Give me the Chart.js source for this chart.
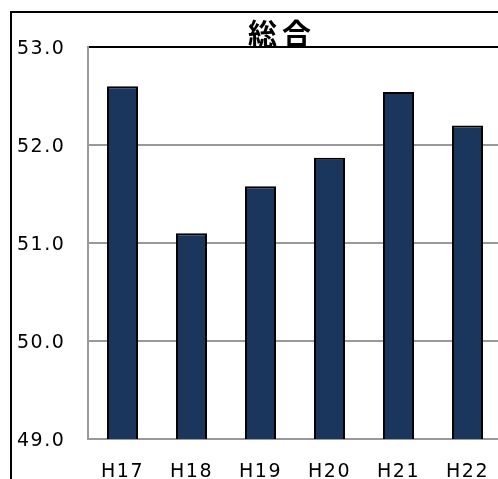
<!DOCTYPE html>
<html>
<head>
<meta charset="utf-8">
<script src="https://cdn.jsdelivr.net/npm/chart.js@4/dist/chart.umd.min.js"></script>
<style>
  html, body { margin: 0; padding: 0; background: #fff; overflow: hidden; }
  #wrap { position: absolute; left: 0; top: 0; }
</style>
</head>
<body>
<div id="wrap"><canvas id="chart" width="600" height="540"></canvas></div>
<script>
const titleText = '総合';
const years = ['H17', 'H18', 'H19', 'H20', 'H21', 'H22'];
const scores = [52.60, 51.10, 51.58, 51.87, 52.54, 52.20];
const yMin = 49;
const yMax = 53;

const spacedText = {
  id: 'spacedText',
  beforeUpdate(chart) { chart.ctx.letterSpacing = '1.5px'; },
  beforeDraw(chart) { chart.ctx.letterSpacing = '1.5px'; },
  afterDraw(chart) {
    const ctx = chart.ctx;
    ctx.save();
    // outer frame
    ctx.strokeStyle = '#000';
    ctx.lineWidth = 2;
    ctx.strokeRect(11, 12, 560, 540);
    // title
    ctx.letterSpacing = '5px';
    ctx.font = 'bold 29px "Noto Sans CJK JP"';
    ctx.fillStyle = '#000';
    ctx.textAlign = 'center';
    ctx.textBaseline = 'middle';
    ctx.fillText(titleText, 282, 34);
    ctx.restore();
  }
};

new Chart(document.getElementById('chart').getContext('2d'), {
  type: 'bar',
  data: {
    labels: years,
    datasets: [{
      data: scores,
      backgroundColor: '#1b365d',
      borderColor: '#000',
      borderWidth: 2,
      categoryPercentage: 1,
      barPercentage: 0.45
    }]
  },
  options: {
    responsive: false,
    animation: false,
    layout: { padding: { left: 17, top: 47, right: 98, bottom: 61 } },
    plugins: {
      legend: { display: false },
      title: { display: false },
      tooltip: { enabled: false }
    },
    scales: {
      x: {
        grid: { display: false },
        border: { color: '#999', width: 2 },
        ticks: {
          color: '#000',
          padding: 14,
          maxRotation: 0,
          font: { family: '"DejaVu Sans"', size: 19 }
        },
        afterFit: (s) => { s.height = 40; }
      },
      y: {
        min: yMin,
        max: yMax,
        grid: {
          drawTicks: false,
          lineWidth: 2,
          color: (c) => (c.tick && c.tick.value === yMax ? '#000' : '#999')
        },
        border: { color: '#999', width: 2 },
        ticks: {
          stepSize: 1,
          color: '#000',
          crossAlign: 'far',
          labelOffset: 2,
          font: { family: '"DejaVu Sans"', size: 19 },
          callback: (v) => v.toFixed(1)
        },
        afterFit: (s) => { s.width = 71; }
      }
    }
  },
  plugins: [spacedText]
});
</script>
</body>
</html>
